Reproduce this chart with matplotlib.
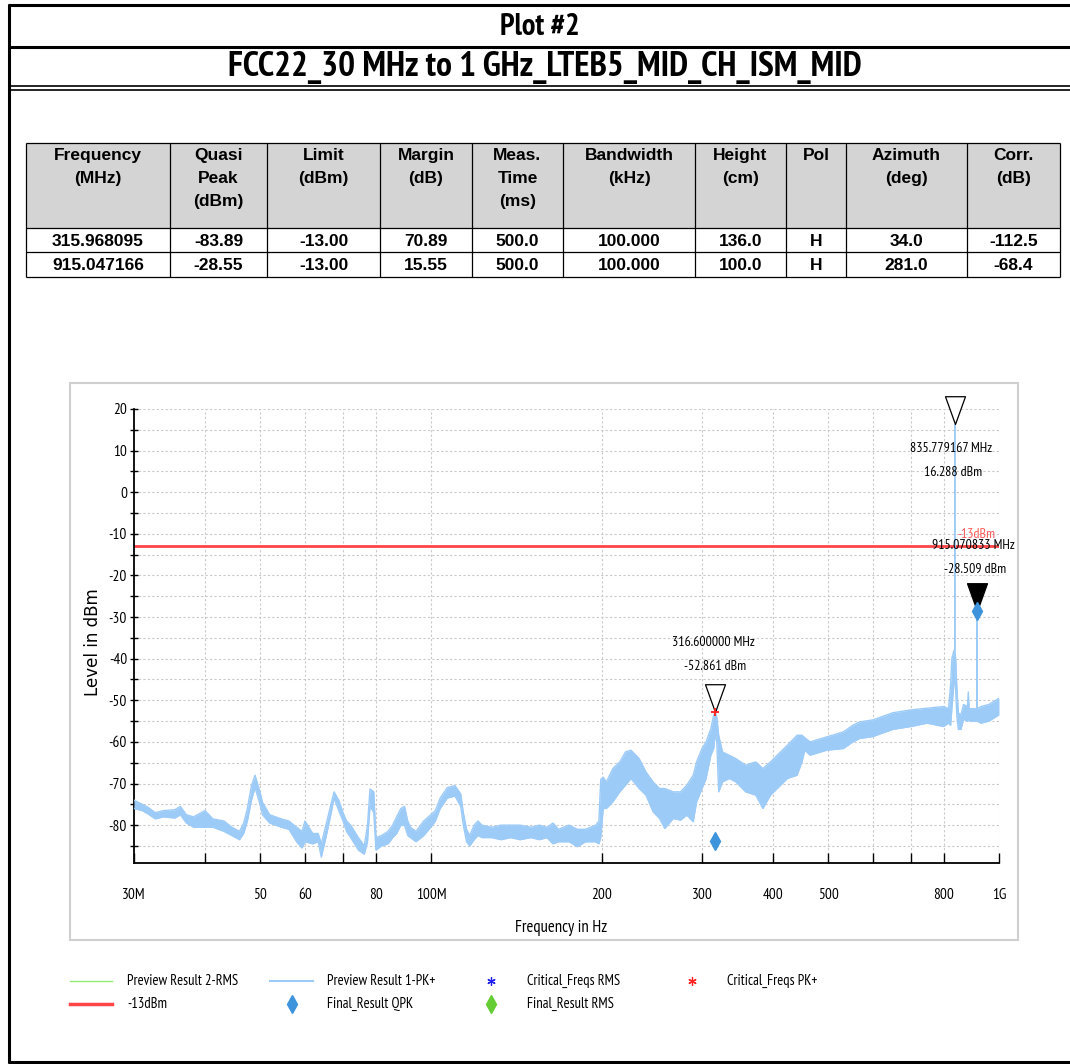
import matplotlib
matplotlib.use('Agg')
import matplotlib.pyplot as plt
from matplotlib.lines import Line2D
from matplotlib.patches import Rectangle
from matplotlib.path import Path
from matplotlib import font_manager

plt.rcParams['axes.unicode_minus'] = False

# ---------------- data ----------------
freq_mhz = [30.0, 31.0, 31.75, 32.7, 33.8, 35.4, 36.2, 37.1, 38.2, 40.0, 41.3, 43.2, 44.6,
            46.0, 46.8, 47.5, 48.3, 49.0, 50.0, 50.5, 52.0, 54.5, 56.2, 58.0, 59.3, 60.0,
            61.9, 63.3, 64.1, 65.3, 66.5, 67.5, 68.8, 70.0, 71.0, 72.2, 74.5, 76.3, 77.3,
            78.1, 79.3, 80.0, 81.8, 84.0, 85.6, 87.0, 88.5, 89.8, 91.0, 92.0, 94.1, 97.1,
            99.9, 101.8, 103.8, 106.8, 110.2, 112.8, 114.0, 115.5, 117.0, 119.1, 121.0,
            122.9, 128.0, 132.8, 138.0, 143.5, 150.0, 155.1, 160.0, 164.0, 167.6, 175.0,
            181.0, 187.0, 195.0, 197.5, 199.0, 201.0, 203.6, 209.0, 215.0, 220.0, 225.0,
            232.5, 239.0, 246.0, 252.5, 258.0, 267.0, 275.0, 282.0, 289.5, 293.5, 300.0,
            305.0, 311.0, 314.5, 316.6, 318.5, 321.0, 326.0, 335.0, 344.0, 358.0, 373.0,
            384.0, 396.0, 407.0, 424.0, 441.0, 450.0, 455.0, 465.0, 497.0, 532.0, 553.0,
            568.0, 600.0, 650.0, 700.0, 747.0, 798.0, 815.0, 822.0, 826.0, 833.0, 835.70,
            835.779167, 835.86, 839.0, 843.0, 848.0, 857.0, 866.0, 880.0, 883.0, 886.0,
            900.0, 914.9, 915.070833, 915.25, 930.0, 960.0, 1000.0]
trace_upper_dbm = [-74.0, -75.0, -75.7, -77.0, -76.5, -76.3, -75.5, -77.5, -78.0, -76.5, -78.5,
                   -79.0, -80.5, -81.5, -79.5, -76.0, -70.5, -68.0, -72.0, -74.5, -77.5, -78.5,
                   -79.0, -80.5, -81.5, -79.0, -82.0, -82.0, -84.5, -80.0, -75.5, -72.0, -74.0,
                   -77.0, -79.0, -80.0, -83.0, -85.0, -80.0, -71.3, -72.0, -83.0, -82.5, -81.5,
                   -80.0, -78.0, -76.0, -75.5, -79.0, -80.5, -81.5, -79.0, -77.5, -76.5, -73.5,
                   -71.0, -70.5, -72.5, -77.0, -81.0, -82.5, -80.0, -79.0, -80.0, -80.5, -80.0,
                   -80.0, -80.0, -80.5, -80.0, -80.5, -79.5, -81.0, -80.0, -81.0, -81.0, -80.0,
                   -79.0, -69.0, -68.5, -69.6, -66.4, -64.8, -62.4, -62.0, -64.0, -67.2, -69.6,
                   -71.2, -71.2, -72.0, -72.0, -70.4, -68.0, -64.8, -61.6, -60.0, -56.8, -53.5,
                   -52.9, -54.0, -58.4, -62.4, -63.2, -64.0, -65.6, -64.8, -66.4, -64.8, -63.2,
                   -60.8, -58.4, -58.4, -59.0, -60.0, -58.8, -57.6, -56.0, -55.2, -54.7, -53.0,
                   -52.3, -51.9, -51.5, -52.0, -46.0, -40.0, -38.0, -38.0, 16.288, -38.0, -40.0,
                   -47.0, -53.0, -53.5, -51.0, -51.5, -48.0, -52.0, -52.0, -52.0, -28.509,
                   -52.0, -51.5, -51.0, -49.5]
trace_lower_dbm = [-76.0, -76.5, -77.3, -78.5, -78.0, -78.3, -77.5, -79.5, -80.5, -80.5, -80.5,
                   -81.5, -82.5, -83.5, -82.0, -79.0, -74.0, -71.0, -75.0, -77.5, -79.5, -80.5,
                   -81.0, -84.0, -85.5, -84.0, -84.5, -84.0, -87.7, -83.0, -78.0, -73.5, -76.5,
                   -79.0, -81.5, -83.0, -86.0, -87.0, -84.0, -75.5, -77.0, -86.0, -85.0, -84.5,
                   -83.0, -82.0, -80.0, -80.0, -82.5, -83.0, -84.0, -82.5, -80.5, -79.0, -76.0,
                   -73.5, -73.0, -75.5, -80.0, -84.0, -85.0, -83.5, -82.5, -83.0, -83.0, -83.5,
                   -83.0, -83.5, -83.0, -83.5, -83.0, -84.5, -84.0, -84.0, -85.2, -84.0, -84.0,
                   -84.5, -83.0, -76.0, -76.0, -74.4, -72.0, -70.4, -68.8, -71.2, -72.8, -76.8,
                   -78.4, -80.8, -78.4, -78.8, -77.6, -79.2, -74.4, -71.2, -68.8, -63.2, -61.6,
                   -58.0, -60.0, -72.0, -69.6, -68.8, -69.6, -72.0, -72.8, -76.0, -72.8, -71.2,
                   -68.8, -68.0, -64.8, -62.0, -63.2, -62.0, -61.6, -60.0, -59.2, -58.7, -57.0,
                   -56.3, -55.5, -56.3, -55.5, -56.0, -52.0, -46.0, -42.0, -42.0, -42.0, -48.0,
                   -54.0, -57.0, -57.0, -54.6, -55.0, -54.0, -55.0, -55.0, -55.0, -54.0, -55.0,
                   -55.5, -55.0, -53.5]

limit_dbm = -13.0
limit_label = '-13dBm'

marker_freq_mhz = [835.779167, 316.6, 915.070833]
marker_level_dbm = [16.288, -52.861, -28.509]
marker_filled = [False, False, True]

critical_pk_freq_mhz = [316.6]
critical_pk_level_dbm = [-52.861]

final_qpk_freq_mhz = [315.968095, 915.047166]
final_qpk_level_dbm = [-83.89, -28.55]

xtick_mhz = [30, 50, 60, 80, 100, 200, 300, 400, 500, 800, 1000]
xtick_labels = ['30M', '50', '60', '80', '100M', '200', '300', '400', '500', '800', '1G']
xgrid_mhz = [40, 50, 60, 70, 80, 100, 200, 300, 400, 500, 600, 700, 800, 1000]
ytick_major = [-80, -70, -60, -50, -40, -30, -20, -10, 0, 10, 20]
ytick_minor = [-85, -75, -65, -55, -45, -35, -25, -15, -5, 5, 15]

table_header = ['Frequency\n(MHz)', 'Quasi\nPeak\n(dBm)', 'Limit\n(dBm)', 'Margin\n(dB)',
                'Meas.\nTime\n(ms)', 'Bandwidth\n(kHz)', 'Height\n(cm)', 'Pol',
                'Azimuth\n(deg)', 'Corr.\n(dB)']
table_rows = [
    ['315.968095', '-83.89', '-13.00', '70.89', '500.0', '100.000', '136.0', 'H', '34.0', '-112.5'],
    ['915.047166', '-28.55', '-13.00', '15.55', '500.0', '100.000', '100.0', 'H', '281.0', '-68.4'],
]

legend_row1 = ['Preview Result 2-RMS', 'Preview Result 1-PK+', 'Critical_Freqs RMS', 'Critical_Freqs PK+']
legend_row2 = ['-13dBm', 'Final_Result QPK', 'Final_Result RMS']

# ---------------- fonts ----------------
names = {f.name for f in font_manager.fontManager.ttflist}
NARROW = 'Liberation Sans'
for cand in ['Liberation Sans Narrow', 'Arial Narrow', 'PT Sans Narrow',
             'IBM Plex Sans Condensed', 'Open Sans Condensed']:
    if cand in names:
        NARROW = cand
        break
SANS = 'Liberation Sans'

W, H = 1070, 1064
fig = plt.figure(figsize=(W / 100, H / 100), dpi=100)


def fx(x):
    return x / W


def fy(y):
    return 1 - y / H


def hline(y, x0, x1, lw, color='black'):
    fig.add_artist(Line2D([fx(x0), fx(x1)], [fy(y), fy(y)], transform=fig.transFigure,
                          color=color, lw=lw, solid_capstyle='butt'))


def vline(x, y0, y1, lw, color='black'):
    fig.add_artist(Line2D([fx(x), fx(x)], [fy(y0), fy(y1)], transform=fig.transFigure,
                          color=color, lw=lw, solid_capstyle='butt'))


# ---------------- page borders & title ----------------
hline(5, 8, 1070, 2.2)
hline(47, 8, 1070, 2.2)
hline(86, 8, 1070, 1.2)
hline(90, 8, 1070, 1.2)
hline(1062, 8, 1070, 2.2)
vline(9, 4, 1063, 2.2)

fig.text(fx(540), fy(27), 'Plot #2', ha='center', va='center', fontsize=22,
         fontweight='bold', family=NARROW)
fig.text(fx(545), fy(68), 'FCC22_30 MHz to 1 GHz_LTEB5_MID_CH_ISM_MID', ha='center',
         va='center', fontsize=25.5, fontweight='bold', family=NARROW)

# ---------------- table ----------------
col_edges = [26, 170, 267, 380, 472, 563, 695, 786, 846, 967, 1060]
row_edges = [143, 228, 252, 277]
fig.add_artist(Rectangle((fx(26), fy(228)), fx(1060) - fx(26), fy(143) - fy(228),
                         transform=fig.transFigure, facecolor='#d4d4d4', edgecolor='none'))
for y in row_edges:
    hline(y, 26, 1060, 0.9)
for x in col_edges:
    vline(x, 143, 277, 0.9)
for i, hdr in enumerate(table_header):
    cx = (col_edges[i] + col_edges[i + 1]) / 2
    fig.text(fx(cx), fy(148), hdr, ha='center', va='top', fontsize=12.5, fontweight='bold',
             family=SANS, linespacing=1.65)
for r, row in enumerate(table_rows):
    cy = (row_edges[r + 1] + row_edges[r + 2]) / 2 + 1
    for i, val in enumerate(row):
        cx = (col_edges[i] + col_edges[i + 1]) / 2
        fig.text(fx(cx), fy(cy), val, ha='center', va='center', fontsize=12.5,
                 fontweight='bold', family=SANS)

# ---------------- chart frame ----------------
fig.add_artist(Rectangle((fx(70), fy(940)), fx(1018) - fx(70), fy(383) - fy(940),
                         transform=fig.transFigure, facecolor='none', edgecolor='#cfcfcf', lw=1.5))

ax = fig.add_axes([fx(134), fy(863), fx(999) - fx(134), fy(409) - fy(863)])
ax.set_xscale('log')
ax.set_xlim(30, 1000)
ax.set_ylim(-89.1, 20)
for s in ['top', 'right']:
    ax.spines[s].set_visible(False)
for s in ['left', 'bottom']:
    ax.spines[s].set_linewidth(1.3)

gcol = '#c9c9c9'
for f in xgrid_mhz:
    ax.axvline(f, color=gcol, lw=0.8, ls=(0, (2, 2)), zorder=0)
for v in ytick_major + ytick_minor:
    ax.axhline(v, color=gcol, lw=0.8, ls=(0, (2, 2)), zorder=0)

ax.set_xticks(xgrid_mhz)
lbl = [xtick_labels[xtick_mhz.index(f)] if f in xtick_mhz else '' for f in xgrid_mhz]
ax.set_xticklabels(lbl)
ax.set_xticks([30], minor=True)
ax.set_xticklabels([xtick_labels[0]], minor=True)
ax.tick_params(axis='x', which='both', direction='in', length=7, width=1, pad=18,
               labelsize=11)
for t in ax.get_xticklabels(which='both'):
    t.set_family(NARROW)

ax.set_yticks(ytick_major)
ax.set_yticks(ytick_minor, minor=True)
ax.tick_params(axis='y', which='both', direction='inout', length=6, width=1, labelsize=11,
               pad=2)
for t in ax.get_yticklabels():
    t.set_family(NARROW)

fig.text(fx(93), fy(642), 'Level in dBm', rotation=90, ha='center', va='center',
         fontsize=12, family='DejaVu Sans')
fig.text(fx(561), fy(928), 'Frequency in Hz', ha='center', va='center', fontsize=12,
         family=NARROW)

# limit line
ax.axhline(limit_dbm, color='#ff4545', lw=2.0, zorder=2)
ax.annotate(limit_label, (911, limit_dbm), xytext=(0, 4), textcoords='offset points',
            ha='center', va='bottom', fontsize=10, color='#ff5a5a', family=NARROW, zorder=5)

# spectrum trace
tc = '#9dcbf8'
ax.fill_between(freq_mhz, trace_lower_dbm, trace_upper_dbm, color=tc, lw=0, zorder=3)
ax.plot(freq_mhz, trace_upper_dbm, color=tc, lw=1.0, zorder=3)
ax.plot(freq_mhz, trace_lower_dbm, color=tc, lw=1.0, zorder=3)

# markers (triangle with tip on the point)
tri = Path([(-0.36, 1.0), (0.36, 1.0), (0.0, 0.0), (-0.36, 1.0)],
           [Path.MOVETO, Path.LINETO, Path.LINETO, Path.CLOSEPOLY])
for f, lv, filled in zip(marker_freq_mhz, marker_level_dbm, marker_filled):
    ax.plot([f], [lv], marker=tri, ms=40, mfc='black' if filled else 'white',
            mec='black', mew=0.9, ls='none', zorder=6, clip_on=False)

ax.plot(critical_pk_freq_mhz, critical_pk_level_dbm, marker='+', ms=6, mew=1.3,
        color='#ff2020', ls='none', zorder=7)
ax.plot(final_qpk_freq_mhz, final_qpk_level_dbm, marker='d', ms=9, color='#3d94dc',
        mec='#3d94dc', ls='none', zorder=7)

# marker texts
offsets = [((-4, -24), (-2, -48)), ((-2, 70), (0, 46)), ((-4, 65), (-2, 41))]
for (f, lv), (o1, o2) in zip(zip(marker_freq_mhz, marker_level_dbm), offsets):
    ax.annotate(f'{f:.6f} MHz', (f, lv), xytext=(o1[0] * 0.72, o1[1] * 0.72),
                textcoords='offset points', ha='center', va='center', fontsize=10,
                family=NARROW, zorder=8, annotation_clip=False)
    ax.annotate(f'{lv:.3f} dBm', (f, lv), xytext=(o2[0] * 0.72, o2[1] * 0.72),
                textcoords='offset points', ha='center', va='center', fontsize=10,
                family=NARROW, zorder=8, annotation_clip=False)

# ---------------- legend ----------------
ly1, ly2 = 981, 1004
fig.add_artist(Line2D([fx(70), fx(112)], [fy(ly1)] * 2, transform=fig.transFigure,
                      color='#90ee70', lw=1.0))
fig.add_artist(Line2D([fx(270), fx(313)], [fy(ly1)] * 2, transform=fig.transFigure,
                      color='#9dcbf8', lw=1.5))
fig.add_artist(Line2D([fx(491)], [fy(ly1)], transform=fig.transFigure, marker=(6, 2, 0),
                      ms=6, color='#2020ee', mew=0.9, ls='none'))
fig.add_artist(Line2D([fx(692)], [fy(ly1)], transform=fig.transFigure, marker=(6, 2, 0),
                      ms=6, color='#ff2020', mew=0.9, ls='none'))
fig.add_artist(Line2D([fx(70), fx(112)], [fy(ly2)] * 2, transform=fig.transFigure,
                      color='#ff4545', lw=2.5))
fig.add_artist(Line2D([fx(292)], [fy(ly2)], transform=fig.transFigure, marker='d',
                      ms=9, color='#3d94dc', ls='none'))
fig.add_artist(Line2D([fx(491)], [fy(ly2)], transform=fig.transFigure, marker='d',
                      ms=9, color='#66cc33', ls='none'))
for x, t in zip([127, 327, 527, 727], legend_row1):
    fig.text(fx(x), fy(ly1), t, ha='left', va='center', fontsize=10.5, family=NARROW)
for x, t in zip([127, 327, 527], legend_row2):
    fig.text(fx(x), fy(ly2), t, ha='left', va='center', fontsize=10.5, family=NARROW)

fig.savefig('out.png', dpi=100)
